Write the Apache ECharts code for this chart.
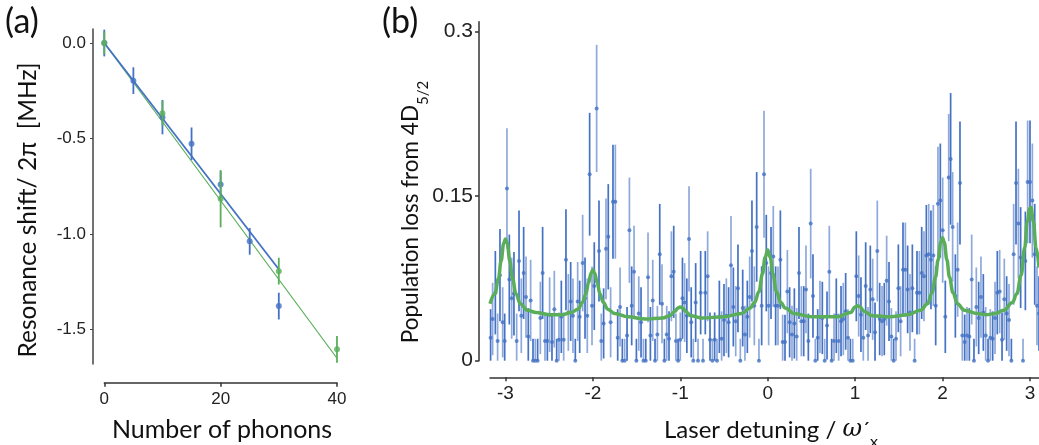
<!DOCTYPE html>
<html><head><meta charset="utf-8">
<script src="https://cdn.jsdelivr.net/npm/echarts@6/dist/echarts.min.js"></script>
<style>html,body{margin:0;padding:0;background:#fff}#c{width:1039px;height:445px}</style>
</head><body><div id="c"></div>
<script>
// ---------- Panel (a) data ----------
var phononsBlue = [0, 5, 10, 15, 20, 25, 30];
var shiftBlue   = [0, -0.197, -0.388, -0.527, -0.741, -1.038, -1.377];
var errBlue     = [0.07, 0.07, 0.09, 0.085, 0.07, 0.07, 0.07];
var phononsGreen = [0, 10, 20, 30, 40];
var shiftGreen   = [0, -0.367, -0.815, -1.194, -1.603];
var errGreen     = [0.06, 0.065, 0.15, 0.07, 0.07];
var fitBlueX = [0, 30],  fitBlueY = [0, -1.184];
var fitGreenX = [0, 40], fitGreenY = [0, -1.650];
var ticksA_y = [-1.5, -1.0, -0.5, 0.0];
var ticksA_x = [0, 20, 40];

// ---------- Panel (b) data ----------
var detuning = [
 -3.170,-3.147,-3.116,-3.090,-3.063,-3.032,-3.009,-2.983,-2.956,-2.929,-2.903,-2.872,-2.845,-2.819,-2.792,-2.765,-2.739,-2.712,-2.685,-2.659,-2.632,-2.601,-2.575,-2.548,-2.521,-2.495,-2.468,-2.441,-2.414,-2.388,-2.361,-2.334,-2.308,-2.281,-2.254,-2.228,-2.201,-2.174,
 -2.151,-2.117,-2.090,-2.064,-2.037,-2.010,-1.984,-1.957,-1.930,-1.904,-1.877,-1.850,-1.824,-1.797,-1.770,-1.743,-1.716,-1.689,-1.663,-1.636,-1.609,-1.582,-1.556,-1.529,-1.502,-1.475,-1.449,-1.422,-1.395,-1.369,-1.342,-1.315,-1.289,-1.262,-1.235,-1.209,-1.182,-1.155,-1.129,-1.102,
 -1.075,-1.050,-1.025,-1.000,-0.975,-0.950,-0.925,-0.900,-0.875,-0.851,-0.824,-0.797,-0.767,-0.740,-0.714,-0.687,-0.660,-0.633,-0.607,-0.580,-0.553,-0.527,-0.500,-0.473,-0.447,-0.420,-0.393,-0.366,-0.340,-0.313,-0.286,-0.260,-0.233,-0.206,-0.180,-0.153,-0.126,-0.100,
 -0.069,-0.042,-0.016,0.011,0.038,0.064,0.091,0.118,0.145,0.171,0.198,0.225,0.251,0.278,0.305,0.332,0.358,0.385,0.412,0.438,0.465,0.492,0.518,0.545,0.572,0.598,0.625,0.652,0.679,0.705,0.732,0.759,0.785,0.812,0.839,0.865,0.892,0.919,0.946,
 0.973,1.014,1.041,1.067,1.094,1.121,1.148,1.174,1.201,1.228,1.254,1.281,1.308,1.334,1.361,1.388,1.415,1.441,1.468,1.495,1.521,1.548,1.575,1.601,1.628,1.655,1.681,1.708,1.735,1.762,1.788,1.815,1.842,1.868,1.895,1.922,1.948,1.975,2.002,2.032,
 2.071,2.093,2.116,2.147,2.173,2.200,2.227,2.254,2.280,2.307,2.334,2.360,2.387,2.414,2.440,2.467,2.494,2.521,2.547,2.574,2.601,2.627,2.654,2.681,2.707,2.734,2.761,2.788,2.814,2.841,2.868,2.894,2.921,2.948,2.974,3.001,3.028,3.055,3.081,3.104
];
var loss = [
 0.021,0.038,0.062,0.018,0.078,0.035,0.018,0.157,0.074,0.057,0.061,0.018,0.091,0.041,0.080,0.058,0.022,0.055,0,0,0,0.039,0.080,0.018,0.018,0.042,0.017,0.047,0,0.019,0.040,0.019,0.092,0.044,0.054,0.041,0,0.054,
 0.040,0.089,0.057,0.041,0.170,0.050,0.068,0.230,0.100,0.018,0.034,0.102,0.113,0.035,0.145,0.145,0.021,0.049,0,0,0.023,0.119,0.050,0.081,0,0.043,0.035,0,0,0.076,0.023,0.055,0,0.024,0.097,0.052,0,0.024,0.020,0.077,
 0.081,0.018,0,0.019,0.057,0.053,0.041,0.111,0.035,0,0.053,0,0.062,0,0.062,0.077,0.019,0,0.019,0,0.040,0.020,0.037,0.041,0.035,0.087,0.049,0.036,0.066,0,0.048,0.024,0.040,0.058,0.100,0.050,0.122,0,
 0.050,0.170,0.089,0.050,0.080,0.095,0.050,0.050,0.092,0.017,0.017,0.063,0.035,0.024,0.034,0.022,0.080,0.036,0.036,0.065,0.018,0.125,0.059,0,0.021,0.040,0.039,0,0.032,0.081,0,0.018,0.041,0.018,0.036,0.038,0.045,0.021,0,
 0,0.077,0.059,0.042,0.021,0.068,0.023,0.065,0.056,0.026,0.100,0.038,0.036,0.038,0.073,0.054,0.022,0,0.020,0.066,0.036,0.083,0.083,0.065,0.044,0.066,0,0.062,0.062,0.080,0.077,0.096,0.097,0.092,0.096,0.050,0.143,0.146,0.119,0.040,
 0.167,0.184,0.122,0.059,0.083,0.162,0.023,0.017,0.023,0.022,0.074,0,0.049,0.039,0.058,0.044,0.023,0,0.021,0.020,0.039,0.062,0.063,0.019,0.056,0.043,0.037,0,0.097,0.162,0.125,0.094,0,0.091,0.163,0.163,0.146,0.097,0.050,0.043
];
var lossErr = [
 0.026,0.033,0.038,0.025,0.042,0.032,0.025,0.055,0.041,0.037,0.038,0.025,0.046,0.034,0.042,0.037,0.026,0.037,0.02,0.02,0.02,0.033,0.042,0.025,0.025,0.034,0.025,0.035,0.02,0.025,0.033,0.025,0.046,0.035,0.036,0.034,0.02,0.036,
 0.033,0.044,0.037,0.034,0.056,0.036,0.040,0.058,0.046,0.025,0.032,0.046,0.048,0.032,0.052,0.052,0.026,0.036,0.02,0.02,0.026,0.048,0.036,0.042,0.02,0.034,0.032,0.02,0.02,0.041,0.026,0.037,0.02,0.026,0.046,0.036,0.02,0.026,0.025,0.041,
 0.042,0.025,0.02,0.025,0.037,0.036,0.034,0.048,0.032,0.02,0.036,0.02,0.038,0.02,0.038,0.041,0.025,0.02,0.025,0.02,0.033,0.025,0.033,0.034,0.032,0.045,0.036,0.032,0.040,0.02,0.035,0.026,0.033,0.037,0.046,0.036,0.050,0.02,
 0.036,0.058,0.044,0.036,0.042,0.046,0.036,0.036,0.045,0.025,0.025,0.038,0.032,0.026,0.032,0.026,0.042,0.032,0.032,0.040,0.025,0.050,0.038,0.02,0.026,0.033,0.033,0.02,0.031,0.042,0.02,0.025,0.034,0.025,0.032,0.033,0.035,0.026,0.02,
 0.02,0.041,0.037,0.034,0.026,0.040,0.026,0.040,0.037,0.027,0.046,0.033,0.032,0.033,0.041,0.036,0.026,0.02,0.025,0.040,0.032,0.043,0.043,0.040,0.035,0.040,0.02,0.038,0.038,0.042,0.041,0.046,0.046,0.045,0.046,0.036,0.052,0.052,0.048,0.033,
 0.058,0.060,0.050,0.038,0.043,0.056,0.026,0.025,0.026,0.026,0.041,0.02,0.036,0.033,0.037,0.035,0.026,0.02,0.026,0.025,0.033,0.038,0.038,0.025,0.037,0.034,0.033,0.02,0.046,0.056,0.050,0.046,0.02,0.045,0.056,0.056,0.052,0.046,0.036,0.034
];
var fitX = [-3.177,-3.12,-3.08,-3.05,-3.02,-3.0,-2.98,-2.95,-2.92,-2.88,-2.83,-2.75,-2.65,-2.5,-2.35,-2.25,-2.17,-2.12,-2.08,-2.05,-2.02,-2.0,-1.98,-1.95,-1.92,-1.88,-1.83,-1.75,-1.6,-1.4,-1.2,-1.12,-1.06,-1.03,-1.0,-0.97,-0.94,-0.88,-0.75,-0.5,-0.3,-0.2,-0.15,-0.1,-0.06,-0.03,0,0.03,0.06,0.1,0.15,0.2,0.3,0.5,0.8,0.95,1.0,1.03,1.06,1.1,1.2,1.4,1.6,1.75,1.83,1.88,1.92,1.95,1.98,2.0,2.02,2.05,2.08,2.12,2.17,2.25,2.4,2.5,2.6,2.7,2.8,2.85,2.9,2.94,2.97,3.0,3.01,3.04,3.07,3.104];
var fitY = [0.052,0.061,0.075,0.091,0.107,0.111,0.107,0.091,0.075,0.061,0.052,0.046,0.044,0.042,0.042,0.044,0.047,0.053,0.061,0.071,0.080,0.083,0.080,0.071,0.061,0.053,0.047,0.043,0.040,0.038,0.039,0.041,0.045,0.048,0.049,0.048,0.045,0.041,0.039,0.040,0.043,0.048,0.053,0.063,0.079,0.094,0.101,0.094,0.079,0.063,0.053,0.048,0.043,0.040,0.040,0.044,0.049,0.050,0.049,0.045,0.041,0.040,0.042,0.046,0.052,0.062,0.076,0.092,0.108,0.112,0.108,0.092,0.076,0.062,0.052,0.046,0.043,0.042,0.043,0.046,0.053,0.061,0.078,0.103,0.127,0.139,0.140,0.127,0.103,0.085];
var ticksB_x = [-3, -2, -1, 0, 1, 2, 3];
var ticksB_y = [0, 0.15, 0.3];

// ---------- helpers ----------
function zip3(a, b, c) { var out = []; var n = Math.min(a.length, b.length, c.length); for (var i = 0; i < n; i++) out.push([a[i], b[i], c[i]]); return out; }
function zip2(a, b) { var out = []; var n = Math.min(a.length, b.length); for (var i = 0; i < n; i++) out.push([a[i], b[i]]); return out; }

var BLUE = '#4472C4', BLUE_L = '#8EA9DB', GREEN = '#5AAE5A';
var TITLE_FONT = 'Lato, "Open Sans", sans-serif';
var NUM_FONT = '"Liberation Sans", Arial, sans-serif';

function errBars(colorA, colorB, width, clampZero) {
  return function (params, api) {
    var x = api.value(0), y = api.value(1), e = api.value(2);
    var lo = y - e; if (clampZero && lo < 0) lo = 0;
    var p1 = api.coord([x, lo]), p2 = api.coord([x, y + e]);
    var col = (params.dataIndex % 2 === 0) ? colorA : colorB;
    return { type: 'line', shape: { x1: p1[0], y1: p1[1], x2: p2[0], y2: p2[1] },
             style: { stroke: col, lineWidth: width } };
  };
}

var chart = echarts.init(document.getElementById('c'));
var option = {
  backgroundColor: '#ffffff',
  animation: false,
  grid: [
    { left: 93, top: 29, width: 252, height: 335 },          // (a) data
    { left: 104.3, top: 370, width: 232.7, height: 12.7 },    // (a) x axis
    { left: 490, top: 21.7, width: 549, height: 339 }         // (b) data
  ],
  xAxis: [
    { gridIndex: 0, type: 'value', min: -1.94, max: 41.38, show: false },
    { gridIndex: 1, type: 'value', min: 0, max: 40, interval: 20,
      axisLine: { show: true, lineStyle: { color: '#333', width: 1.5 } },
      axisTick: { show: true, length: 4, lineStyle: { color: '#333', width: 1.5 } },
      axisLabel: { fontSize: 17, color: '#222', fontFamily: NUM_FONT, margin: 8 },
      splitLine: { show: false } },
    { gridIndex: 2, type: 'value', min: -3.177, max: 3.104, offset: 16.6,
      axisLine: { show: true, onZero: false, lineStyle: { color: '#333', width: 1.5 } },
      axisTick: { show: true, length: 4, customValues: ticksB_x, lineStyle: { color: '#333', width: 1.5 } },
      axisLabel: { customValues: ticksB_x, fontSize: 19, color: '#222', fontFamily: NUM_FONT, margin: 7,
                   formatter: function (v) { return String(v); } },
      splitLine: { show: false } }
  ],
  yAxis: [
    { gridIndex: 0, type: 'value', min: -1.680, max: 0.0733,
      axisLine: { show: true, onZero: false, lineStyle: { color: '#444', width: 1.5 } },
      axisTick: { show: true, length: 3, customValues: ticksA_y, lineStyle: { color: '#444', width: 1 } },
      axisLabel: { customValues: ticksA_y, fontSize: 17, color: '#222', fontFamily: NUM_FONT, margin: 7,
                   formatter: function (v) { return v.toFixed(1); } },
      splitLine: { show: false } },
    { gridIndex: 1, type: 'value', min: 0, max: 1, show: false },
    { gridIndex: 2, type: 'value', min: 0, max: 0.3091, offset: 11,
      axisLine: { show: true, onZero: false, lineStyle: { color: '#333', width: 1.5 } },
      axisTick: { show: true, length: 4, customValues: ticksB_y, lineStyle: { color: '#333', width: 1.5 } },
      axisLabel: { customValues: ticksB_y, fontSize: 21, color: '#222', fontFamily: NUM_FONT, margin: 6 },
      splitLine: { show: false } }
  ],
  series: [
    // ----- panel (a) -----
    { type: 'line', xAxisIndex: 0, yAxisIndex: 0, data: zip2(fitGreenX, fitGreenY), symbol: 'none',
      lineStyle: { color: GREEN, width: 1.2 }, z: 2 },
    { type: 'line', xAxisIndex: 0, yAxisIndex: 0, data: zip2(fitBlueX, fitBlueY), symbol: 'none',
      lineStyle: { color: BLUE, width: 1.8 }, z: 3 },
    { type: 'custom', xAxisIndex: 0, yAxisIndex: 0, data: zip3(phononsBlue, shiftBlue, errBlue),
      renderItem: errBars(BLUE, BLUE, 1.8, false), z: 4 },
    { type: 'scatter', xAxisIndex: 0, yAxisIndex: 0, data: zip2(phononsBlue, shiftBlue),
      symbolSize: 6, itemStyle: { color: BLUE }, z: 5 },
    { type: 'custom', xAxisIndex: 0, yAxisIndex: 0, data: zip3(phononsGreen, shiftGreen, errGreen),
      renderItem: errBars(GREEN, GREEN, 1.8, false), z: 6 },
    { type: 'scatter', xAxisIndex: 0, yAxisIndex: 0, data: zip2(phononsGreen, shiftGreen),
      symbolSize: 6, itemStyle: { color: GREEN }, z: 7 },
    // ----- panel (b) -----
    { type: 'custom', xAxisIndex: 2, yAxisIndex: 2, data: zip3(detuning, loss, lossErr),
      renderItem: errBars(BLUE, BLUE_L, 1.7, true), z: 2 },
    { type: 'scatter', xAxisIndex: 2, yAxisIndex: 2, data: zip2(detuning, loss),
      symbolSize: 4, itemStyle: { color: BLUE }, z: 3 },
    { type: 'line', xAxisIndex: 2, yAxisIndex: 2, data: zip2(fitX, fitY), symbol: 'none',
      smooth: 0.4, smoothMonotone: 'x', lineStyle: { color: GREEN, width: 3.5 }, z: 4 }
  ],
  graphic: [
    { type: 'text', left: 5, top: 5, style: { text: '(a)', font: '34px ' + TITLE_FONT, fill: '#111' } },
    { type: 'text', left: 382, top: 5, style: { text: '(b)', font: '34px ' + TITLE_FONT, fill: '#111' } },
    { type: 'text', x: 28, y: 210, rotation: Math.PI / 2,
      style: { text: 'Resonance shift/ 2\u03c0  [MHz]', font: '24.5px ' + TITLE_FONT, fill: '#111',
               align: 'center', verticalAlign: 'middle' } },
    { type: 'text', x: 222, y: 430,
      style: { text: 'Number of phonons', font: '25px ' + TITLE_FONT, fill: '#111',
               align: 'center', verticalAlign: 'middle' } },
    { type: 'text', x: 411, y: 212, rotation: Math.PI / 2,
      style: { text: '{m|Population loss from 4D}{s|5/2}', fill: '#111', align: 'center', verticalAlign: 'middle',
               rich: { m: { fontSize: 22.5, fontFamily: TITLE_FONT, fill: '#111', lineHeight: 28 },
                       s: { fontSize: 15, fontFamily: TITLE_FONT, fill: '#111', verticalAlign: 'bottom', lineHeight: 16, padding: [0, 0, -6, 0] } } } },
    { type: 'text', x: 771, y: 430,
      style: { text: '{m|Laser detuning / }{w|\u03c9}{p|\u00b4}{s|x}', fill: '#111', align: 'center', verticalAlign: 'middle',
               rich: { m: { fontSize: 24, fontFamily: TITLE_FONT, fill: '#111', lineHeight: 28 },
                       w: { fontSize: 24, fontFamily: '"DejaVu Serif", serif', fontStyle: 'italic', fill: '#111', lineHeight: 28 },
                       p: { fontSize: 20, fontFamily: TITLE_FONT, fill: '#111', lineHeight: 28 },
                       s: { fontSize: 16, fontFamily: TITLE_FONT, fill: '#111', verticalAlign: 'bottom', lineHeight: 16, padding: [0, 0, -6, 0] } } } }
  ]
};
chart.setOption(option);
</script></body></html>
